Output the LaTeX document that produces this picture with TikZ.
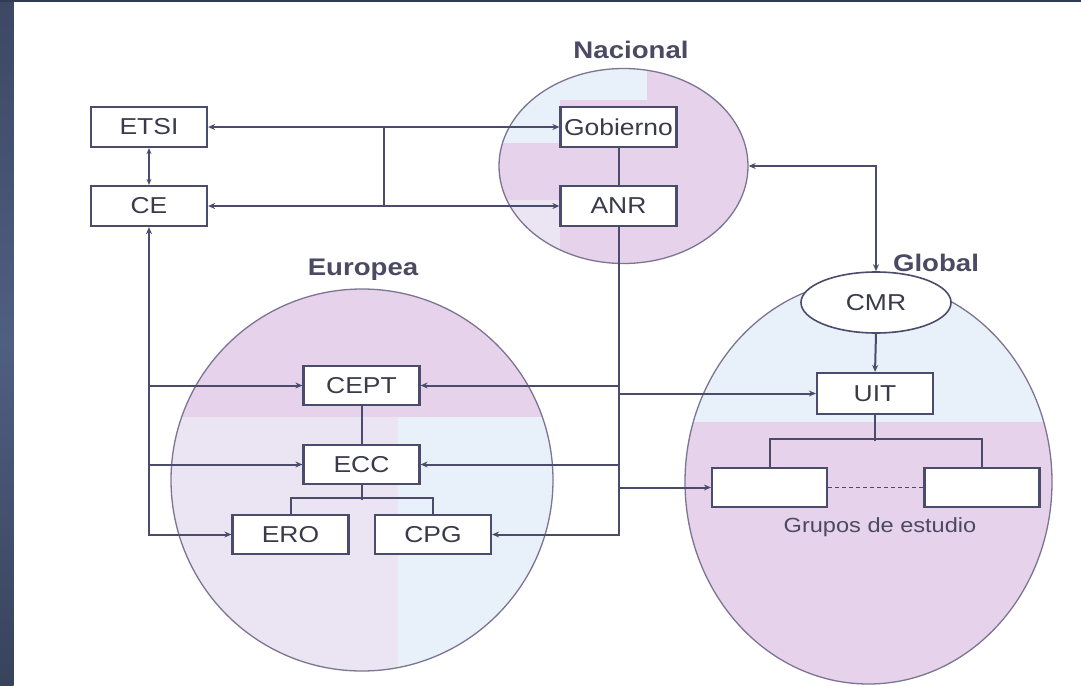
\documentclass[tikz,border=0pt]{standalone}
\usepackage{fontspec}
\setmainfont{Liberation Sans}[FakeStretch=1.15]
\usetikzlibrary{arrows.meta,shapes.geometric}
\definecolor{lnc}{HTML}{4B4B6B}
\definecolor{txc}{HTML}{3A3A4A}
\definecolor{lbc}{HTML}{4A4A62}
\definecolor{cic}{HTML}{7B7592}
\definecolor{pinkc}{HTML}{E6D2EA}
\definecolor{lavc}{HTML}{EBE4F3}
\definecolor{bluec}{HTML}{E8F0F9}
\definecolor{bandtop}{HTML}{3C4864}
\definecolor{bandmid}{HTML}{4F5F82}
\definecolor{bandbot}{HTML}{38435C}
\tikzset{
  box/.style={draw=lnc, line width=2.2pt, fill=white, minimum width=116pt, minimum height=40pt, inner sep=0pt, text=txc, font=\fontsize{23}{27}\selectfont},
  conn/.style={draw=lnc, line width=2pt},
  tip/.style={-{Stealth[length=7pt,width=6pt]}},
  lab/.style={text=lbc, font=\fontsize{24}{28}\selectfont\bfseries, inner sep=0pt},
  zone/.style={draw=cic, line width=1.3pt},
}
\begin{document}
\begin{tikzpicture}[x=1pt,y=-1pt]
\useasboundingbox (0,0) rectangle (1081,685);
\fill[white] (0,0) rectangle (1081,685);
% left band and top band
\shade[top color=bandtop, bottom color=bandbot, middle color=bandmid] (0,0) rectangle (13.5,685);
\fill[bandtop!80!black] (0,0) rectangle (1081,2.5);

% Nacional ellipse
\begin{scope}
  \clip (623.5,166) ellipse [x radius=124.5pt, y radius=97.5pt];
  \fill[pinkc] (490,60) rectangle (760,270);
  \fill[bluec] (490,60) rectangle (647,100);
  \fill[bluec] (490,100) rectangle (560,143);
  \fill[lavc] (490,200) rectangle (560,270);
\end{scope}
\node[zone, ellipse, minimum width=249pt, minimum height=195pt, inner sep=0pt] (nac) at (623.5,166) {};

% Europea circle
\begin{scope}
  \clip (362,480) circle [radius=191pt];
  \fill[pinkc] (160,280) rectangle (560,417);
  \fill[lavc] (160,417) rectangle (398,680);
  \fill[bluec] (398,417) rectangle (560,680);
\end{scope}
\node[zone, circle, minimum size=382pt, inner sep=0pt] (eur) at (362,480) {};

% Global ellipse
\begin{scope}
  \clip (868.5,482) ellipse [x radius=183.5pt, y radius=202pt];
  \fill[bluec] (680,275) rectangle (1060,422);
  \fill[pinkc] (680,422) rectangle (1060,690);
\end{scope}
\node[zone, ellipse, minimum width=367pt, minimum height=404pt, inner sep=0pt] (glo) at (868.5,482) {};

% labels
\node[lab] (lnac) at (631,50) {Nacional};
\node[lab] (leur) at (363,270) {Europea};
\node[lab] (lglo) at (936,263) {Global};

% boxes
\node[box] (etsi) at (149,127) {ETSI};
\node[box] (ce) at (149,206) {CE};
\node[box] (gob) at (618.5,127) {Gobierno};
\node[box] (anr) at (618.5,206) {ANR};
\node[box, minimum height=39pt] (cept) at (361.5,385.5) {CEPT};
\node[box, minimum height=39pt] (ecc) at (361.5,464.5) {ECC};
\node[box, minimum height=39pt] (ero) at (290.5,534.5) {ERO};
\node[box, minimum height=39pt] (cpg) at (433,534.5) {CPG};
\node[box, minimum height=41pt] (uit) at (875,393.5) {UIT};
\node[box, minimum width=115pt, minimum height=39pt] (g1) at (769.5,487.5) {};
\node[box, minimum width=115pt, minimum height=39pt] (g2) at (982,487.5) {};
\node[draw=lnc, line width=1.6pt, fill=white, ellipse, minimum width=150pt, minimum height=61pt, inner sep=0pt, text=txc, font=\fontsize{23}{27}\selectfont] (cmr) at (876,302.5) {CMR};
\node[text=lbc, font=\fontsize{20.5}{24}\selectfont, inner sep=0pt] (gru) at (880,527) {Grupos de estudio};

% connectors top left
\draw[conn, {Stealth[length=7pt,width=6pt]}-{Stealth[length=7pt,width=6pt]}] (etsi) -- (gob);
\draw[conn, {Stealth[length=7pt,width=6pt]}-{Stealth[length=7pt,width=6pt]}] (ce) -- (anr);
\coordinate (j1) at (384,127);
\coordinate (j2) at (384,206);
\draw[conn] (j1) -- (j2);
\draw[conn, {Stealth[length=6pt,width=5pt]}-{Stealth[length=6pt,width=5pt]}] (etsi) -- (ce);
\draw[conn] (gob) -- (anr);

% left bus
\draw[conn, {Stealth[length=7pt,width=6pt]}-{Stealth[length=7pt,width=6pt]}] (ce.south) |- (ero.west);
\draw[conn, tip] (ce.south |- cept.west) -- (cept.west);
\draw[conn, tip] (ce.south |- ecc.west) -- (ecc.west);

% right bus from ANR
\draw[conn, tip] (anr.south) |- (cpg.east);
\draw[conn, tip] (anr.south |- cept.east) -- (cept.east);
\draw[conn, tip] (anr.south |- ecc.east) -- (ecc.east);
\draw[conn, tip] (anr.south |- uit.west) -- (uit.west);
\draw[conn, tip] (anr.south |- g1.west) -- (g1.west);

% Nacional to CMR
\draw[conn, {Stealth[length=7pt,width=6pt]}-{Stealth[length=7pt,width=6pt]}] (nac.east) -| (cmr.north);
\draw[conn, tip] (cmr.south) -- (uit.north);

% Europea tree
\draw[conn] (cept) -- (ecc);
\draw[conn] (ecc.south) -- ++(0,15);
\draw[conn] (ero.north) -- ++(0,-16) -| (cpg.north);

% Global tree
\draw[conn] (uit.south) -- ++(0,26);
\draw[conn] (g1.north) -- ++(0,-28) -| (g2.north);
\draw[draw=lnc, line width=1.3pt, dash pattern=on 4pt off 3pt] (g1.east) -- (g2.west);
\end{tikzpicture}
\end{document}
